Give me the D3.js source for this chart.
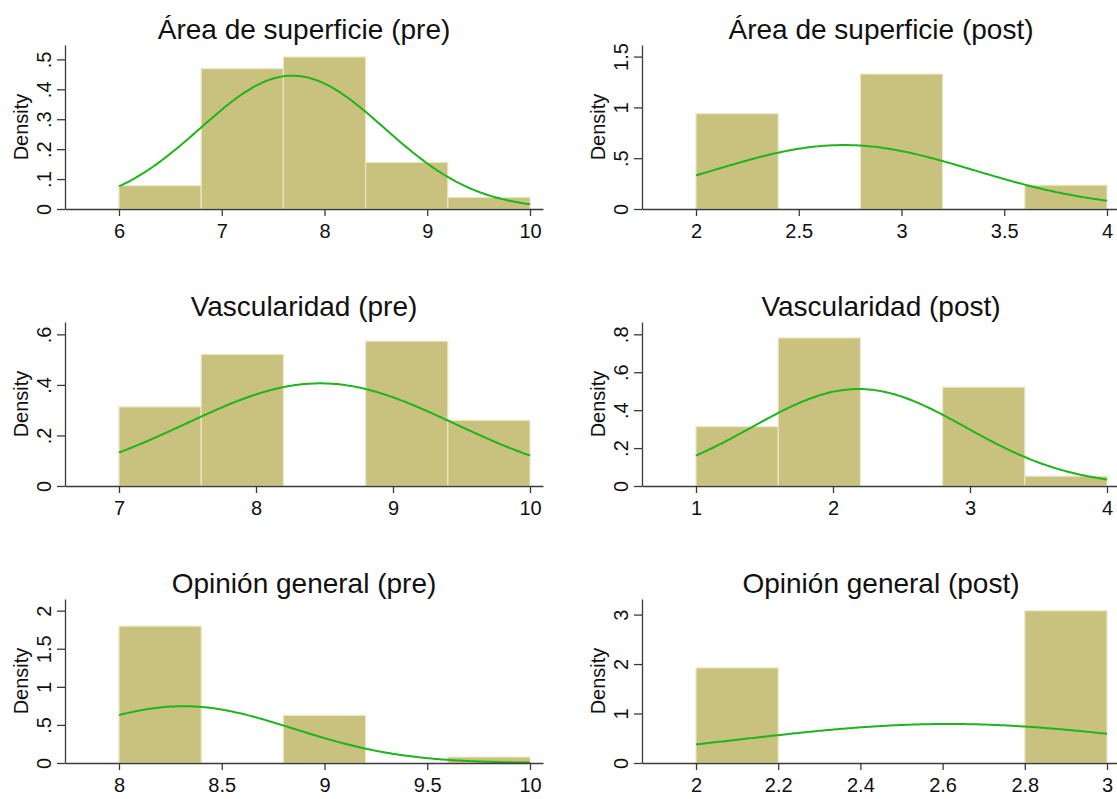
<!DOCTYPE html>
<html>
<head>
<meta charset="utf-8">
<script src="https://cdn.jsdelivr.net/npm/d3@7/dist/d3.min.js"></script>
<style>
  html, body { margin: 0; padding: 0; background: #fff; }
  svg { display: block; font-family: "Liberation Sans", Arial, sans-serif; }
</style>
</head>
<body>
<svg id="chart" width="1117" height="799"></svg>
<script>
// Histogram panels: title, bins (start + width), densities per bin,
// and the fitted normal overlay (mean, sd).
const panelTitles = [
  "Área de superficie (pre)", "Área de superficie (post)",
  "Vascularidad (pre)", "Vascularidad (post)",
  "Opinión general (pre)", "Opinión general (post)"
];
const binStarts = [6, 2, 7, 1, 8, 2];
const binWidths = [0.8, 0.4, 0.6, 0.6, 0.4, 0.2];
const densitiesAreaPre = [0.078, 0.469, 0.508, 0.156, 0.039];
const densitiesAreaPost = [0.938, 0, 1.328, 0, 0.234];
const densitiesVascPre = [0.313, 0.521, 0, 0.573, 0.260];
const densitiesVascPost = [0.313, 0.781, 0, 0.521, 0.052];
const densitiesOpinPre = [1.797, 0, 0.625, 0, 0.078];
const densitiesOpinPost = [1.923, 0, 0, 0, 3.077];
const normalMeans = [7.6875, 2.719, 8.469, 2.1875, 8.3125, 2.615];
const normalSDs = [0.8955, 0.634, 0.982, 0.780, 0.535, 0.506];
const xTickValues = [
  [6, 7, 8, 9, 10], [2, 2.5, 3, 3.5, 4],
  [7, 8, 9, 10], [1, 2, 3, 4],
  [8, 8.5, 9, 9.5, 10], [2, 2.2, 2.4, 2.6, 2.8, 3]
];
const yTickValues = [
  [0, 0.1, 0.2, 0.3, 0.4, 0.5], [0, 0.5, 1, 1.5],
  [0, 0.2, 0.4, 0.6], [0, 0.2, 0.4, 0.6, 0.8],
  [0, 0.5, 1, 1.5, 2], [0, 1, 2, 3]
];
const yAxisMax = [0.548, 1.614, 0.649, 0.865, 2.153, 3.315];

const densities = [densitiesAreaPre, densitiesAreaPost, densitiesVascPre,
                   densitiesVascPost, densitiesOpinPre, densitiesOpinPost];

// Layout
const colX = [65, 642];          // y-axis position per column
const rowBase = [209, 486, 763]; // x-axis baseline per row
const plotH = 164;
const axisW = 478;
const dataL = 54, dataR = 465;   // data span inside the axis
const fontSize = 20;

const barFill = "#c9c27f";
const barEdge = "#ebe7c5";
const curveColor = "#1db41d";
const axisColor = "#3a3a3a";
const textColor = "#111";

const fmt = d => d === 0 ? "0" : String(+d.toFixed(2)).replace(/^0\./, ".");

function normalPdf(x, m, s) {
  const z = (x - m) / s;
  return Math.exp(-0.5 * z * z) / (s * Math.sqrt(2 * Math.PI));
}

const svg = d3.select("#chart");
svg.append("rect").attr("width", 1117).attr("height", 799).attr("fill", "#fff");

panelTitles.forEach((title, i) => {
  const ax = colX[i % 2];
  const base = rowBase[Math.floor(i / 2)];
  const w = binWidths[i];
  const dens = densities[i];
  const xLo = binStarts[i];
  const xHi = binStarts[i] + w * dens.length;

  const xData = d3.scaleLinear().domain([xLo, xHi]).range([ax + dataL, ax + dataR]);
  const x = xData.copy()
    .domain([xData.invert(ax), xData.invert(ax + axisW)])
    .range([ax, ax + axisW]);
  const y = d3.scaleLinear().domain([0, yAxisMax[i]]).range([base, base - plotH]);

  const g = svg.append("g");

  // bars
  const bins = dens.map((d, k) => ({ x0: xLo + k * w, x1: xLo + (k + 1) * w, d }))
                   .filter(b => b.d > 0);
  g.append("g").selectAll("rect").data(bins).join("rect")
    .attr("x", b => x(b.x0))
    .attr("y", b => y(b.d))
    .attr("width", b => x(b.x1) - x(b.x0))
    .attr("height", b => y(0) - y(b.d))
    .attr("fill", barFill)
    .attr("stroke", barEdge)
    .attr("stroke-width", 1.2);

  // normal density overlay
  const pts = d3.range(0, 201).map(k => {
    const xv = xLo + (xHi - xLo) * k / 200;
    return [xv, normalPdf(xv, normalMeans[i], normalSDs[i])];
  });
  g.append("path")
    .datum(pts)
    .attr("fill", "none")
    .attr("stroke", curveColor)
    .attr("stroke-width", 2)
    .attr("d", d3.line().x(p => x(p[0])).y(p => y(p[1])));

  // y axis
  const yAx = g.append("g")
    .attr("transform", `translate(${ax},0)`)
    .call(d3.axisLeft(y).tickValues(yTickValues[i]).tickFormat(fmt)
      .tickSize(8).tickSizeOuter(0));
  yAx.select(".domain").attr("stroke", axisColor).attr("stroke-width", 1.3);
  yAx.selectAll(".tick line").attr("stroke", axisColor).attr("stroke-width", 1.3);
  yAx.selectAll(".tick text")
    .attr("transform", "rotate(-90)")
    .attr("x", 0).attr("y", -14).attr("dy", 0)
    .attr("text-anchor", "middle")
    .attr("fill", textColor)
    .style("font-size", fontSize + "px");

  // x axis
  const xAx = g.append("g")
    .attr("transform", `translate(0,${base})`)
    .call(d3.axisBottom(x).tickValues(xTickValues[i]).tickFormat(fmt)
      .tickSize(7).tickSizeOuter(0));
  xAx.select(".domain").attr("stroke", axisColor).attr("stroke-width", 1.3);
  xAx.selectAll(".tick line").attr("stroke", axisColor).attr("stroke-width", 1.3);
  xAx.selectAll(".tick text")
    .attr("y", 29).attr("dy", 0)
    .attr("fill", textColor)
    .style("font-size", fontSize + "px");

  // y axis title
  g.append("text")
    .attr("transform", `translate(${ax - 37},${base - plotH / 2}) rotate(-90)`)
    .attr("text-anchor", "middle")
    .attr("fill", textColor)
    .style("font-size", fontSize + "px")
    .text("Density");

  // panel title
  g.append("text")
    .attr("x", ax + axisW / 2)
    .attr("y", base - 170)
    .attr("text-anchor", "middle")
    .attr("fill", textColor)
    .style("font-size", "28px")
    .text(title);
});
</script>
</body>
</html>
